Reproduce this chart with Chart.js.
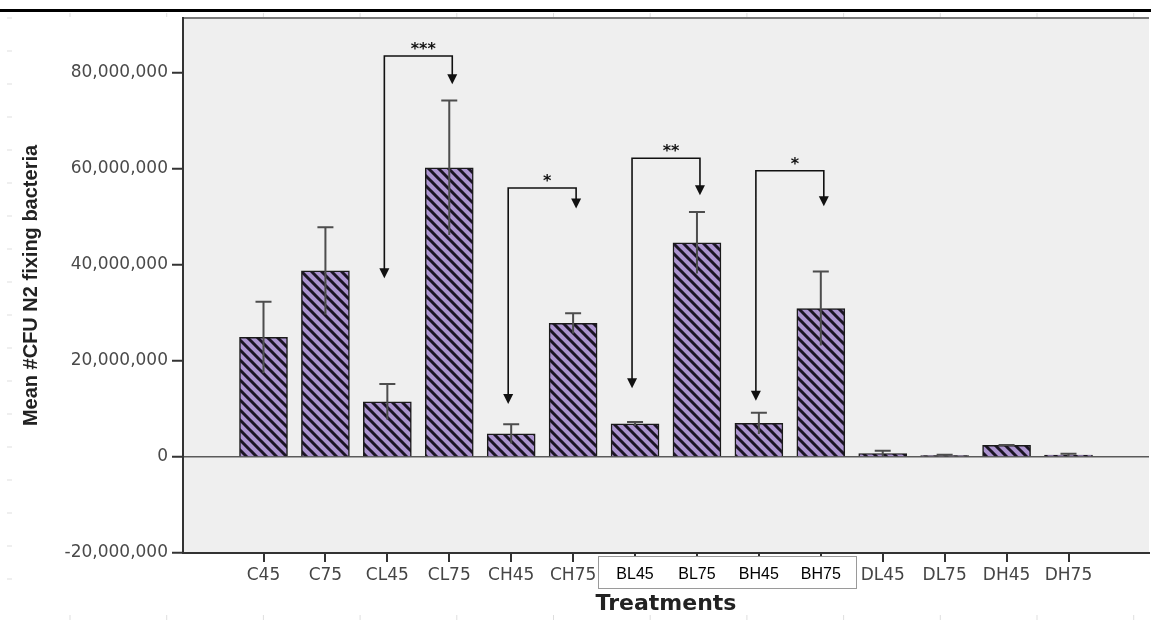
<!DOCTYPE html>
<html>
<head>
<meta charset="utf-8">
<script src="https://cdn.jsdelivr.net/npm/chart.js@4.4.1/dist/chart.umd.min.js"></script>
<style>
  html, body { margin: 0; padding: 0; background: #fff; }
  #wrap { position: relative; width: 1151px; height: 623px; }
</style>
</head>
<body>
<div id="wrap"><canvas id="c" width="1151" height="623"></canvas></div>
<script>
// Treatments and their mean CFU counts with standard errors
const treatments = ['C45', 'C75', 'CL45', 'CL75', 'CH45', 'CH75', 'BL45', 'BL75', 'BH45', 'BH75', 'DL45', 'DL75', 'DH45', 'DH75'];
const meanCFU  = [24.9e6, 38.75e6, 11.5e6, 60.2e6, 4.8e6, 27.8e6, 6.9e6, 44.6e6, 7.0e6, 30.9e6, 0.7e6, 0.3e6, 2.4e6, 0.4e6];
const stdError = [7.4e6, 9.1e6, 3.7e6, 14.0e6, 2.0e6, 2.1e6, 0.4e6, 6.4e6, 2.2e6, 7.7e6, 0.6e6, 0.15e6, 0.1e6, 0.25e6];
const yTicks = [-20e6, 0, 20e6, 40e6, 60e6, 80e6];
const boxedTreatments = ['BL45', 'BL75', 'BH45', 'BH75'];

// Significance brackets: compared pair, bracket height, arrow end values, stars
const pairFrom    = [2, 4, 6, 8];
const pairTo      = [3, 5, 7, 9];
const pairTop     = [83.5e6, 56.0e6, 62.2e6, 59.6e6];
const pairFromEnd = [37.2e6, 11.0e6, 14.3e6, 11.7e6];
const pairToEnd   = [77.6e6, 51.75e6, 54.5e6, 52.2e6];
const pairStars   = ['***', '*', '**', '*'];

const SPSS_FONT = 'DejaVu Sans';
const NARROW_FONT = '"Liberation Sans Narrow", "Liberation Sans", sans-serif';

function stripePattern() {
  const s = 10;
  const c = document.createElement('canvas');
  c.width = s; c.height = s;
  const g = c.getContext('2d');
  g.fillStyle = '#ab93ce';
  g.fillRect(0, 0, s, s);
  g.strokeStyle = '#1b1424';
  g.lineWidth = 3;
  g.beginPath();
  for (const k of [-s, 0, s]) {
    g.moveTo(k - 1, -1);
    g.lineTo(k + s + 1, s + 1);
  }
  g.stroke();
  return g.createPattern(c, 'repeat');
}

const isBoxed = (i) => boxedTreatments.includes(treatments[i]);

// Plot panel and outer frame marks
const backdrop = {
  id: 'backdrop',
  beforeDraw(chart) {
    const { ctx, chartArea: a } = chart;
    ctx.save();
    ctx.fillStyle = '#fff';
    ctx.fillRect(0, 0, chart.width, chart.height);
    ctx.fillStyle = '#efefef';
    ctx.fillRect(a.left, a.top, a.right - a.left, a.bottom - a.top);
    ctx.strokeStyle = '#7a7a7a';
    ctx.lineWidth = 2;
    ctx.beginPath();
    ctx.moveTo(a.left, a.top);
    ctx.lineTo(a.right, a.top);
    ctx.stroke();

    // heavy rule along the top
    ctx.fillStyle = '#000';
    ctx.fillRect(0, 9, chart.width, 3);

    // faint frame marks
    ctx.strokeStyle = 'rgba(0,0,0,0.13)';
    ctx.lineWidth = 1;
    ctx.beginPath();
    for (let px = 70; px < chart.width; px += 96.7) {
      ctx.moveTo(px, 13); ctx.lineTo(px, 17);
      ctx.moveTo(px, 615); ctx.lineTo(px, 620);
    }
    for (let py = 18; py < 610; py += 33) {
      ctx.moveTo(7, py); ctx.lineTo(12, py);
    }
    ctx.stroke();
    ctx.restore();
  }
};

// Standard error whiskers, significance brackets and the framed label strip
const overlays = {
  id: 'overlays',
  afterDatasetsDraw(chart) {
    const { ctx, chartArea: a, scales: { x, y } } = chart;
    ctx.save();
    ctx.strokeStyle = '#4d4d4d';
    ctx.lineWidth = 2;
    meanCFU.forEach((m, i) => {
      const px = x.getPixelForValue(i);
      const hi = y.getPixelForValue(m + stdError[i]);
      const lo = y.getPixelForValue(Math.max(m - stdError[i], 0));
      ctx.beginPath();
      ctx.moveTo(px, lo);
      ctx.lineTo(px, hi);
      ctx.moveTo(px - 8, hi);
      ctx.lineTo(px + 8, hi);
      ctx.stroke();
    });

    const arrowHead = (px, tipY) => {
      ctx.beginPath();
      ctx.moveTo(px - 5, tipY - 10);
      ctx.lineTo(px + 5, tipY - 10);
      ctx.lineTo(px, tipY);
      ctx.closePath();
      ctx.fill();
    };

    ctx.strokeStyle = '#111';
    ctx.fillStyle = '#111';
    ctx.lineWidth = 1.6;
    pairFrom.forEach((f, k) => {
      const xl = x.getPixelForValue(f) - 3;
      const xr = x.getPixelForValue(pairTo[k]) + 3;
      const yt = y.getPixelForValue(pairTop[k]);
      const yl = y.getPixelForValue(pairFromEnd[k]);
      const yr = y.getPixelForValue(pairToEnd[k]);
      ctx.beginPath();
      ctx.moveTo(xl, yl - 9);
      ctx.lineTo(xl, yt);
      ctx.lineTo(xr, yt);
      ctx.lineTo(xr, yr - 9);
      ctx.stroke();
      arrowHead(xl, yl);
      arrowHead(xr, yr);
      ctx.font = 'bold 16px ' + SPSS_FONT;
      ctx.textAlign = 'center';
      ctx.textBaseline = 'alphabetic';
      ctx.fillText(pairStars[k], (xl + xr) / 2 + 5, yt - 2);
    });

    // white strip framing the B-series labels (its labels are drawn on top)
    const idx = boxedTreatments.map(t => treatments.indexOf(t));
    const bx0 = Math.round(x.getPixelForValue(Math.min(...idx)) - 37);
    const bx1 = Math.round(x.getPixelForValue(Math.max(...idx)) + 35);
    const by0 = Math.round(a.bottom + 3);
    ctx.fillStyle = '#fff';
    ctx.fillRect(bx0, by0, bx1 - bx0, 32);
    ctx.strokeStyle = '#9a9a9a';
    ctx.lineWidth = 1;
    ctx.strokeRect(bx0 + 0.5, by0 + 0.5, bx1 - bx0, 32);
    ctx.restore();
  }
};

new Chart(document.getElementById('c'), {
  type: 'bar',
  data: {
    datasets: [{
      data: meanCFU.map((v, i) => ({ x: i, y: v })),
      backgroundColor: stripePattern(),
      borderColor: '#1a1a1a',
      borderWidth: 1.5,
      barThickness: 48
    }]
  },
  options: {
    responsive: false,
    animation: false,
    devicePixelRatio: 1,
    layout: { padding: { top: 18, right: 2, bottom: 0, left: 0 } },
    plugins: { legend: { display: false }, tooltip: { enabled: false } },
    scales: {
      x: {
        type: 'linear',
        offset: false,
        min: -1.3,
        max: 14.3,
        afterBuildTicks: (s) => { s.ticks = treatments.map((_, i) => ({ value: i })); },
        afterFit: (s) => { s.height = 70; },
        ticks: {
          z: 1,
          autoSkip: false,
          maxRotation: 0,
          padding: 3,
          callback: (v) => treatments[v],
          color: (c) => isBoxed(c.index) ? '#000' : '#454545',
          font: (c) => isBoxed(c.index)
            ? { family: NARROW_FONT, size: 16 }
            : { family: SPSS_FONT, size: 17 }
        },
        grid: {
          display: true,
          offset: false,
          drawOnChartArea: false,
          drawTicks: true,
          tickLength: 9,
          lineWidth: 2,
          color: '#333',
          tickWidth: 2,
          tickColor: '#333'
        },
        border: { display: true, color: '#333', width: 2 },
        title: {
          display: true,
          text: 'Treatments',
          color: '#222',
          font: { family: SPSS_FONT, size: 22, weight: 'bold' },
          padding: { top: 0, bottom: 6 }
        }
      },
      y: {
        min: -20e6,
        max: 91.4e6,
        afterBuildTicks: (s) => { s.ticks = yTicks.map(v => ({ value: v })); },
        afterFit: (s) => { s.width = 183; },
        ticks: {
          padding: 4,
          color: '#4a4a4a',
          font: { family: SPSS_FONT, size: 17 },
          callback: (v) => v.toLocaleString('en-US')
        },
        grid: {
          drawOnChartArea: true,
          drawTicks: true,
          tickLength: 11,
          tickWidth: 2,
          tickColor: '#333',
          lineWidth: 1.5,
          color: (c) => (c.tick && c.tick.value === 0) ? '#5a5a5a' : 'rgba(0,0,0,0)'
        },
        border: { display: true, color: '#333', width: 2 },
        title: {
          display: true,
          text: 'Mean #CFU N2 fixing bacteria',
          color: '#222',
          font: { family: NARROW_FONT, size: 20, weight: 'bold' },
          padding: { top: 19, bottom: 0 }
        }
      }
    }
  },
  plugins: [backdrop, overlays]
});
</script>
</body>
</html>
